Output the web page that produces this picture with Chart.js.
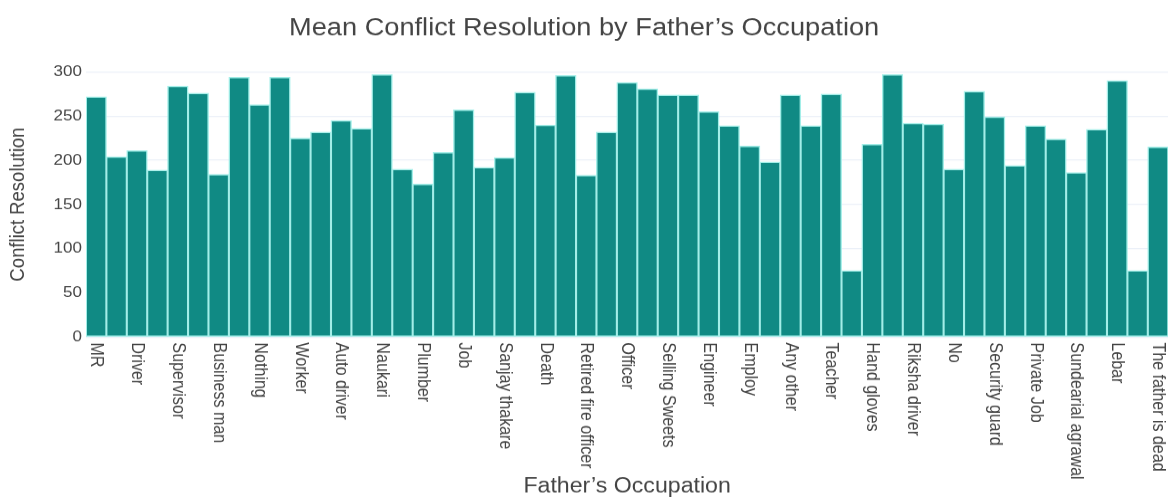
<!DOCTYPE html>
<html>
<head>
<meta charset="utf-8">
<script src="https://cdn.jsdelivr.net/npm/chart.js@4"></script>
<style>
  html, body { margin: 0; padding: 0; background: #ffffff; overflow: hidden; }
  /* the source picture is a chart stretched non-uniformly to 1168x497 */
  #c { display: block; width: 1168px; height: 497px; }
</style>
</head>
<body>
<canvas id="c" width="859" height="404" style="width:1168px;height:497px"></canvas>
<script>
// Father's occupation categories (only every other label is printed in the source; unprinted names left blank)
const categories = [
  "MR", "", "Driver", "", "Supervisor", "", "Business man", "", "Nothing", "",
  "Worker", "", "Auto driver", "", "Naukari", "", "Plumber", "", "Job", "",
  "Sanjay thakare", "", "Death", "", "Retired fire officer", "", "Officer", "",
  "Selling Sweets", "", "Engineer", "", "Employ", "", "Any other", "", "Teacher", "",
  "Hand gloves", "", "Riksha driver", "", "No", "", "Security guard", "", "Private Job", "",
  "Sundearial agrawal", "", "Lebar", "", "The father is dead"
];

// Mean conflict resolution per occupation
const meanConflictResolution = [
  272, 204, 211, 189, 284, 276, 184, 294, 263, 294,
  225, 232, 245, 236, 297, 190, 173, 209, 257, 192,
  203, 277, 240, 296, 183, 232, 288, 281, 274, 274,
  255, 239, 216, 198, 274, 239, 275, 75, 218, 297,
  242, 241, 190, 278, 249, 194, 239, 224, 186, 235,
  290, 75, 215
];

const yTicks = [0, 50, 100, 150, 200, 250, 300];

const titleText = "Mean Conflict Resolution by Father\u2019s Occupation";
const xTitle = "Father\u2019s Occupation";
const yTitle = "Conflict Resolution";

// Category scale whose rotated tick labels read top-to-bottom (clockwise), as in the source
class DownCategoryScale extends Chart.CategoryScale {
  _computeLabelItems(chartArea) {
    const items = super._computeLabelItems(chartArea);
    const pad = this.options.ticks.padding;
    items.forEach((item, i) => {
      item.options.rotation = Math.PI / 2;
      item.options.textAlign = 'left';
      item.options.textBaseline = 'middle';
      item.options.translation = [this.getPixelForTick(i), this.top + pad];
      item.textOffset = 0;
    });
    return items;
  }
}
DownCategoryScale.id = 'downCategory';
DownCategoryScale.defaults = Object.assign({}, Chart.CategoryScale.defaults);
Chart.register(DownCategoryScale);

const FONT = "'Liberation Sans', Arial, Helvetica, sans-serif";
const TXT = '#444444';

new Chart(document.getElementById('c'), {
  type: 'bar',
  data: {
    labels: categories,
    datasets: [{
      label: 'Conflict Resolution',
      data: meanConflictResolution,
      backgroundColor: '#108a84',
      borderColor: '#a3eee8',
      borderWidth: 1.1,
      borderSkipped: false,
      barPercentage: 1.0,
      categoryPercentage: 1.0
    }]
  },
  options: {
    responsive: false,
    animation: false,
    devicePixelRatio: 1.36,
    layout: { padding: 0 },
    plugins: {
      legend: { display: false },
      tooltip: { enabled: false },
      title: {
        display: true,
        text: titleText,
        color: TXT,
        font: { family: FONT, size: 20, weight: 'normal', lineHeight: 1.2 },
        padding: { top: 10.8, bottom: 23.7 }
      }
    },
    scales: {
      x: {
        type: 'downCategory',
        offset: true,
        grid: { display: false, drawTicks: false },
        border: { display: false },
        ticks: {
          autoSkip: false,
          minRotation: 90,
          maxRotation: 90,
          padding: 4.5,
          color: TXT,
          font: { family: FONT, size: 13 }
        },
        title: {
          display: true,
          text: xTitle,
          color: TXT,
          font: { family: FONT, size: 17, lineHeight: 1.0 },
          padding: { top: 0, bottom: 0 }
        },
        afterFit: (scale) => { scale.height = 130.3; scale.paddingLeft = 0; scale.paddingRight = 0; }
      },
      y: {
        min: 0,
        max: 300,
        afterBuildTicks: (scale) => { scale.ticks = yTicks.map(v => ({ value: v })); },
        grid: { color: '#ebf0f8', lineWidth: 1, drawTicks: false },
        border: { display: false },
        ticks: {
          padding: 3,
          color: TXT,
          font: { family: FONT, size: 12.5 }
        },
        title: {
          display: true,
          text: yTitle,
          color: TXT,
          font: { family: FONT, size: 15, lineHeight: 1.1 },
          padding: { top: 4.9, bottom: 0 }
        },
        afterFit: (scale) => { scale.width = 63.2; }
      }
    }
  }
});
</script>
</body>
</html>
